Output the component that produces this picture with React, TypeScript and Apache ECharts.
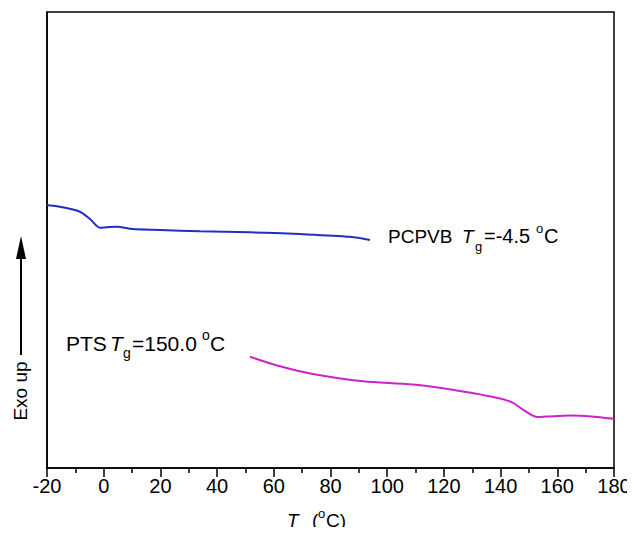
import React, { useEffect, useRef } from "react";
import * as echarts from "echarts";

const xTicks = [-20, 0, 20, 40, 60, 80, 100, 120, 140, 160, 180];

const pcpvbT = [-20, -16.5, -13.1, -8.4, -4.8, -1.3, 1.2, 4.6, 10.3, 20, 34, 51.6, 69.2, 86.9, 93.9];
const pcpvbY = [5.77, 5.74, 5.70, 5.62, 5.46, 5.27, 5.28, 5.29, 5.24, 5.22, 5.19, 5.17, 5.13, 5.07, 5.0];

const ptsT = [51.6, 62.2, 73.8, 91.5, 109.1, 126.7, 138.7, 144.4, 147.9, 152.8, 156.3, 164.5, 174, 180];
const ptsY = [2.44, 2.23, 2.06, 1.9, 1.83, 1.68, 1.54, 1.43, 1.28, 1.12, 1.13, 1.15, 1.12, 1.08];

const FONT = "'Liberation Sans', Arial, sans-serif";

export default function App() {
  const ref = useRef<HTMLDivElement>(null);
  useEffect(() => {
    if (!ref.current) return;
    const chart = echarts.init(ref.current, null, { renderer: "svg" });
    const txt = (x: number, y: number, text: string, size: number, extra: any = {}) => ({
      type: "text",
      x,
      y,
      style: {
        text,
        fill: "#000",
        fontFamily: FONT,
        fontSize: size,
        verticalAlign: "middle",
        align: "left",
        ...extra,
      },
    });
    chart.setOption({
      animation: false,
      grid: {
        left: 47,
        right: 21,
        top: 12,
        bottom: 67,
        show: true,
        borderColor: "#000",
        borderWidth: 1.5,
        backgroundColor: "transparent",
      },
      xAxis: {
        type: "value",
        min: xTicks[0],
        max: xTicks[xTicks.length - 1],
        interval: 20,
        axisLine: { show: true, onZero: false, lineStyle: { color: "#000", width: 1.5 } },
        axisTick: { show: true, length: 9, lineStyle: { color: "#000", width: 1.5 } },
        minorTick: { show: true, splitNumber: 2, length: 5, lineStyle: { color: "#000", width: 1.5 } },
        splitLine: { show: false },
        axisLabel: { color: "#000", fontSize: 20, fontFamily: FONT, margin: 8 },
      },
      yAxis: {
        type: "value",
        min: 0,
        max: 10,
        axisLine: { show: true, onZero: false, lineStyle: { color: "#000", width: 1.5 } },
        axisTick: { show: false },
        axisLabel: { show: false },
        splitLine: { show: false },
      },
      series: [
        {
          type: "line",
          name: "PCPVB",
          data: pcpvbT.map((t, i) => [t, pcpvbY[i]]),
          showSymbol: false,
          smooth: 0.3,
          lineStyle: { color: "#1f2fc4", width: 2 },
        },
        {
          type: "line",
          name: "PTS",
          data: ptsT.map((t, i) => [t, ptsY[i]]),
          showSymbol: false,
          smooth: 0.3,
          lineStyle: { color: "#cc22cc", width: 2 },
        },
      ],
      graphic: [
        // PCPVB annotation
        txt(388, 236, "PCPVB", 19),
        txt(462, 236, "T", 19, { fontStyle: "italic" }),
        txt(475, 246, "g", 13),
        txt(484, 236, "=-4.5", 20),
        txt(536, 228, "o", 13),
        txt(544, 236, "C", 20),
        // PTS annotation
        txt(66, 343, "PTS", 21),
        txt(110, 343, "T", 21, { fontStyle: "italic" }),
        txt(123, 353, "g", 14),
        txt(132, 343, "=150.0", 21),
        txt(202, 335, "o", 14),
        txt(210, 343, "C", 21),
        // x axis title
        txt(287, 520, "T", 19, { fontStyle: "italic" }),
        txt(301, 529, "a", 13),
        txt(312, 520, "(", 19),
        txt(318, 513, "o", 13),
        txt(326, 520, "C)", 19),
        // y axis arrow + label
        {
          type: "line",
          shape: { x1: 21, y1: 355, x2: 21, y2: 255 },
          style: { stroke: "#000", lineWidth: 2 },
        },
        {
          type: "polygon",
          shape: { points: [[21, 236], [16, 259], [26, 259]] },
          style: { fill: "#000" },
        },
        {
          type: "text",
          x: 20,
          y: 391,
          rotation: Math.PI / 2,
          style: {
            text: "Exo up",
            fill: "#000",
            fontFamily: FONT,
            fontSize: 19,
            align: "center",
            verticalAlign: "middle",
          },
        },
      ],
    });
    return () => chart.dispose();
  }, []);
  return <div ref={ref} style={{ width: 635, height: 535, margin: -8 }} />;
}
